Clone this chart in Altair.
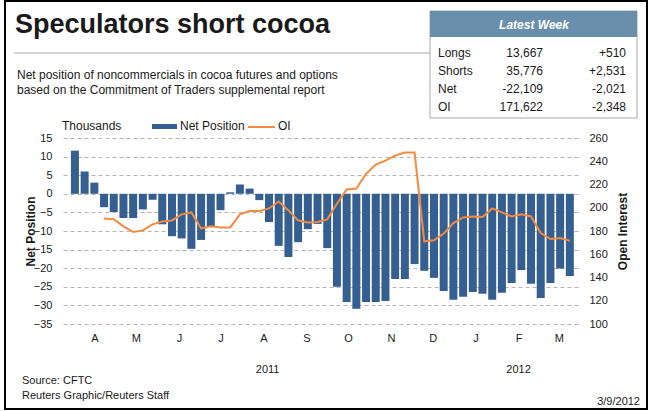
import altair as alt
import pandas as pd

# Weekly CFTC report dates (release Fridays), 52 weeks
week_start = "2011-03-18"
n_weeks = 52

# Net position of noncommercials, thousands of contracts
net_position = [
    11.6, 6.0, 3.0, -3.6, -4.9, -6.5, -6.5, -4.2, -1.6, -8.2,
    -11.4, -12.0, -14.8, -12.4, -8.8, -4.4, 0.4, 2.5, 1.4, -1.7,
    -7.6, -14.0, -17.0, -13.0, -9.5, -8.1, -14.6, -25.0, -29.1, -30.9,
    -29.1, -29.1, -28.8, -22.9, -22.9, -18.9, -20.7, -22.6, -26.1, -28.5,
    -27.7, -26.4, -26.9, -28.5, -26.6, -24.0, -20.5, -24.2, -28.0, -24.0,
    -20.1, -22.1,
]

# Open interest, thousands of contracts (series begins in the 4th week)
oi_offset = 3
open_interest = [
    190.8, 190.2, 184.0, 179.1, 180.5, 185.7, 188.2, 189.1, 194.3, 196.0,
    182.2, 184.0, 183.1, 183.1, 194.3, 197.1, 197.1, 199.4, 205.4, 197.7,
    189.1, 187.4, 187.7, 190.0, 203.4, 215.7, 216.6, 229.2, 237.2, 240.6,
    244.9, 247.5, 247.5, 171.1, 172.0, 177.8, 186.8, 191.7, 192.5, 192.0,
    199.4, 196.0, 192.5, 194.3, 192.5, 178.2, 173.1, 174.0, 171.6,
]

# Latest-week summary table
table_rows = ["Longs", "Shorts", "Net", "OI"]
table_latest = ["13,667", "35,776", "-22,109", "171,622"]
table_change = ["+510", "+2,531", "-2,021", "-2,348"]

# Year captions under the month axis
year_labels = ["2011", "2012"]
year_label_dates = ["2011-08-04", "2012-02-01"]

dates = pd.date_range(week_start, periods=n_weeks, freq="7D")
bars_df = pd.DataFrame({"date": dates, "net": net_position})
oi_df = pd.DataFrame({"date": dates[oi_offset:], "oi": open_interest})
years_df = pd.DataFrame({"date": pd.to_datetime(year_label_dates), "year": year_labels})

BLUE = "#365f91"
ORANGE = "#f38a3e"
FONT = "Liberation Sans"
TXT = "#1a1a1a"

W, H = 516, 186

x_scale = alt.Scale(
    domain=[alt.DateTime(year=2011, month=3, date=13), alt.DateTime(year=2012, month=3, date=12)],
    nice=False,
)
month_ticks = [alt.DateTime(year=y, month=m, date=1) for y, m in
               [(2011, 4), (2011, 5), (2011, 6), (2011, 7), (2011, 8), (2011, 9),
                (2011, 10), (2011, 11), (2011, 12), (2012, 1), (2012, 2), (2012, 3)]]

x_axis = alt.Axis(
    values=month_ticks,
    labelExpr="slice(timeFormat(datum.value, '%b'), 0, 1)",
    title=None, grid=False, ticks=False, domain=False,
    labelPadding=8, labelFontSize=11, labelColor=TXT, labelFont=FONT,
)

bars = alt.Chart(bars_df).mark_bar(size=8, color=BLUE).encode(
    x=alt.X("date:T", scale=x_scale, axis=x_axis),
    y=alt.Y(
        "net:Q",
        scale=alt.Scale(domain=[-35, 15], nice=False),
        axis=alt.Axis(
            orient="left", values=list(range(-35, 20, 5)),
            grid=True, gridDash=[4, 3], gridColor="#b4b4b4", gridWidth=1,
            domain=False, ticks=False, labelPadding=11,
            labelFontSize=11, labelColor=TXT, labelFont=FONT,
            title="Net Position", titleFont=FONT, titleFontSize=12, titleFontWeight="bold",
            titleColor=TXT, titleAngle=270, titleX=-33, titleY=H / 2,
            titleAlign="center", titleBaseline="middle",
        ),
    ),
)

oi_line = alt.Chart(oi_df).mark_line(color=ORANGE, strokeWidth=2).encode(
    x=alt.X("date:T", scale=x_scale, axis=x_axis),
    y=alt.Y(
        "oi:Q",
        scale=alt.Scale(domain=[100, 260], nice=False),
        axis=alt.Axis(
            orient="right", values=list(range(100, 280, 20)),
            grid=False, domain=False, ticks=False, labelPadding=10,
            labelFontSize=11, labelColor=TXT, labelFont=FONT,
            title="Open Interest", titleFont=FONT, titleFontSize=12, titleFontWeight="bold",
            titleColor=TXT, titleAngle=270, titleX=43, titleY=H / 2,
            titleAlign="center", titleBaseline="middle",
        ),
    ),
)

years = alt.Chart(years_df).mark_text(fontSize=11, font=FONT, color=TXT).encode(
    x=alt.X("date:T", scale=x_scale, axis=x_axis),
    y=alt.value(232),
    text="year:N",
)

one = pd.DataFrame({"k": [0]})


def label(text, x, y, size=12, weight="normal", align="left", color=TXT, style="normal"):
    return alt.Chart(one).mark_text(
        text=text, fontSize=size, fontWeight=weight, align=align, baseline="middle",
        font=FONT, color=color, fontStyle=style,
    ).encode(x=alt.value(x), y=alt.value(y))


def box(x, x2, y, y2, **kw):
    return alt.Chart(one).mark_rect(**kw).encode(
        x=alt.value(x), x2=alt.value(x2), y=alt.value(y), y2=alt.value(y2)
    )


def hline(x, x2, y, color, width):
    return alt.Chart(one).mark_rule(color=color, strokeWidth=width).encode(
        x=alt.value(x), x2=alt.value(x2), y=alt.value(y)
    )


# outer frame
frame = box(-58, 584, -137, 271, fillOpacity=0, stroke="#000000", strokeWidth=2)

# headline, rule and description
title = label("Speculators short cocoa", -48, -113, size=27, weight="bold")
rule = hline(-49, 367, -85, "#c4c4c4", 1.5)
sub1 = label("Net position of noncommercials in cocoa futures and options", -46, -63)
sub2 = label("based on the Commitment of Traders supplemental report", -46, -48)

# latest-week table
table_layers = [
    box(367, 574, -127, -20, fill="#ffffff", stroke="#a8a8a8", strokeWidth=1),
    box(367, 574, -127, -101, fill="#6a8fac"),
    label("Latest Week", 471, -113, size=12, weight="bold", style="italic", align="center", color="#ffffff"),
]
row_y = [-85, -67, -49, -31]
for name, latest, change, ry in zip(table_rows, table_latest, table_change, row_y):
    table_layers.append(label(name, 375, ry))
    table_layers.append(label(latest, 480, ry, align="right"))
    table_layers.append(label(change, 563, ry, align="right"))

# legend
legend = [
    label("Thousands", -1, -12),
    box(89, 114, -14, -9, fill=BLUE),
    label("Net Position", 117, -12),
    hline(185, 212, -11, ORANGE, 2),
    label("OI", 215, -12),
]

# footer
footer = [
    label("Source: CFTC", -41, 243, size=11),
    label("Reuters Graphic/Reuters Staff", -41, 258, size=11),
    label("3/9/2012", 577, 264, size=11, align="right"),
]

chart = alt.layer(
    bars, oi_line, years, frame, title, rule, sub1, sub2, *table_layers, *legend, *footer
).resolve_scale(y="independent").properties(
    width=W,
    height=H,
    padding={"left": 63, "top": 138, "right": 71, "bottom": 87},
    autosize=alt.AutoSizeParams(type="none"),
    background="#ffffff",
).configure_view(stroke=None)

chart.save("out.html", embed_options={"renderer": "svg", "actions": False})
